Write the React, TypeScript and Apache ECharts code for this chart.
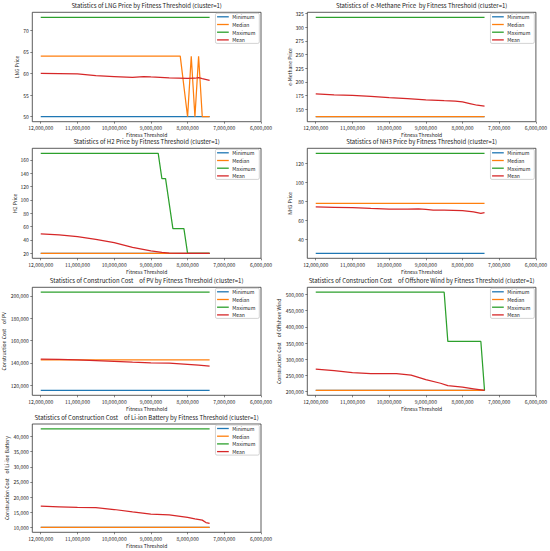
import React, { useEffect, useRef } from "react";
import * as echarts from "echarts";

// ---------- data ----------
const seriesNames = ["Minimum", "Median", "Maximum", "Mean"];
const seriesColors = ["#1f77b4", "#ff7f0e", "#2ca02c", "#d62728"];

const xTicks = [12000000, 11000000, 10000000, 9000000, 8000000, 7000000, 6000000];

// LNG Price
const lngMinimum = [[12000000, 50], [7400000, 50]];
const lngMedian = [[12000000, 64], [8200000, 64], [8000000, 50], [7900000, 64], [7800000, 50], [7700000, 64], [7600000, 50], [7400000, 50]];
const lngMaximum = [[12000000, 73], [7400000, 73]];
const lngMean = [[12000000, 60], [11000000, 59.9], [10500000, 59.5], [10000000, 59.3], [9500000, 59.1], [9200000, 59.3], [9000000, 59.2], [8500000, 59.0], [8000000, 58.85], [7800000, 58.9], [7700000, 59.05], [7600000, 58.8], [7400000, 58.4]];
const lngTicks = [50, 55, 60, 65, 70];

// e-Methane Price
const emMinimum = [[12000000, 136.5], [7400000, 136.5]];
const emMedian = [[12000000, 136.5], [7400000, 136.5]];
const emMaximum = [[12000000, 318.3], [7400000, 318.3]];
const emMean = [[12000000, 178.3], [11500000, 176.5], [11000000, 175.5], [10500000, 173.7], [10000000, 171.5], [9500000, 169.8], [9000000, 167.5], [8500000, 165.8], [8200000, 165.2], [8000000, 163.5], [7800000, 160.5], [7600000, 157.5], [7400000, 156]];
const emTicks = [150, 175, 200, 225, 250, 275, 300, 325];

// H2 Price
const h2Minimum = [[12000000, 20], [7400000, 20]];
const h2Median = [[12000000, 20], [7400000, 20]];
const h2Maximum = [[12000000, 170], [8800000, 170], [8700000, 132], [8600000, 132], [8400000, 57], [8100000, 57], [8000000, 20], [7400000, 20]];
const h2Mean = [[12000000, 49], [11500000, 47.5], [11000000, 45], [10500000, 41], [10000000, 36], [9500000, 29], [9000000, 23.5], [8700000, 21.3], [8500000, 20.3], [8000000, 20], [7400000, 20]];
const h2Ticks = [20, 40, 60, 80, 100, 120, 140, 160];

// NH3 Price
const nh3Minimum = [[12000000, 25.6], [7400000, 25.6]];
const nh3Median = [[12000000, 78], [7400000, 78]];
const nh3Maximum = [[12000000, 130.5], [7400000, 130.5]];
const nh3Mean = [[12000000, 74.2], [11500000, 73.8], [11000000, 73.4], [10500000, 72.6], [10000000, 71.9], [9500000, 72.0], [9200000, 72.2], [9000000, 71.8], [8800000, 71.0], [8500000, 71.0], [8000000, 70.3], [7700000, 69.0], [7500000, 67.5], [7400000, 68.3]];
const nh3Ticks = [40, 60, 80, 100, 120];

// Construction Cost of PV
const pvMinimum = [[12000000, 115300], [7400000, 115300]];
const pvMedian = [[12000000, 142700], [7400000, 142700]];
const pvMaximum = [[12000000, 203200], [7400000, 203200]];
const pvMean = [[12000000, 143200], [11500000, 143000], [11000000, 142600], [10500000, 142000], [10000000, 141300], [9500000, 140500], [9000000, 139900], [8500000, 139700], [8000000, 138600], [7700000, 137900], [7400000, 137000]];
const pvTicks = [120000, 140000, 160000, 180000, 200000];

// Construction Cost of Offshore Wind
const owMinimum = [[12000000, 204000], [7400000, 204000]];
const owMedian = [[12000000, 204000], [7400000, 204000]];
const owMaximum = [[12000000, 507000], [8500000, 507000], [8400000, 355000], [7500000, 355000], [7400000, 204000]];
const owMean = [[12000000, 269500], [11500000, 265000], [11000000, 259000], [10500000, 256000], [10000000, 255500], [9800000, 256000], [9400000, 251000], [9000000, 237000], [8600000, 226000], [8400000, 218500], [8000000, 214000], [7700000, 209000], [7400000, 204000]];
const owTicks = [200000, 250000, 300000, 350000, 400000, 450000, 500000];

// Construction Cost of Li-ion Battery
const liMinimum = [[12000000, 10000], [7400000, 10000]];
const liMedian = [[12000000, 10000], [7400000, 10000]];
const liMaximum = [[12000000, 42500], [7400000, 42500]];
const liMean = [[12000000, 17000], [11500000, 16800], [11000000, 16600], [10500000, 16500], [10000000, 15900], [9500000, 15100], [9000000, 14400], [8500000, 14100], [8000000, 13300], [7800000, 12800], [7600000, 12400], [7500000, 11600], [7400000, 11300]];
const liTicks = [10000, 15000, 20000, 25000, 30000, 35000, 40000];

const titles = [
  "Statistics of LNG Price by Fitness Threshold (cluster=1)",
  "Statistics of  e-Methane Price  by Fitness Threshold (cluster=1)",
  "Statistics of H2 Price by Fitness Threshold (cluster=1)",
  "Statistics of NH3 Price by Fitness Threshold (cluster=1)",
  "Statistics of Construction Cost\u3000of PV by Fitness Threshold (cluster=1)",
  "Statistics of Construction Cost\u3000of Offshore Wind by Fitness Threshold (cluster=1)",
  "Statistics of Construction Cost\u3000of Li-ion Battery by Fitness Threshold (cluster=1)",
];
const yNames = [
  "LNG Price",
  "e-Methane Price",
  "H2 Price",
  "NH3 Price",
  "Construction Cost\u3000of PV",
  "Construction Cost\u3000of Offshore Wind",
  "Construction Cost\u3000of Li-ion Battery",
];
const panelSeries = [
  [lngMinimum, lngMedian, lngMaximum, lngMean],
  [emMinimum, emMedian, emMaximum, emMean],
  [h2Minimum, h2Median, h2Maximum, h2Mean],
  [nh3Minimum, nh3Median, nh3Maximum, nh3Mean],
  [pvMinimum, pvMedian, pvMaximum, pvMean],
  [owMinimum, owMedian, owMaximum, owMean],
  [liMinimum, liMedian, liMaximum, liMean],
];
const panelTicks = [lngTicks, emTicks, h2Ticks, nh3Ticks, pvTicks, owTicks, liTicks];

// ---------- layout ----------
const W = 550;
const H = 551;
const colLeft = [32.3, 307.3];
const plotWidth = 228.7;
const rowTop = [12.3, 148.3, 287.3, 424];
const rowHeight = [109.4, 110, 108, 108.3];
const yNameGaps = [9, 14, 9.5, 14, 26, 26, 23];
const FONT = "'Noto Sans CJK JP', 'DejaVu Sans', sans-serif";
const TEXT = "#1a1a1a";

const fmt = (v: number) => Math.round(v).toLocaleString("en-US");

function buildOption() {
  const grid: any[] = [];
  const xAxis: any[] = [];
  const yAxis: any[] = [];
  const series: any[] = [];
  const title: any[] = [];
  const legend: any[] = [];

  panelSeries.forEach((sets, i) => {
    const col = i % 2;
    const row = Math.floor(i / 2);
    const left = colLeft[col];
    const top = rowTop[row];
    const h = rowHeight[row];

    grid.push({
      left,
      top,
      width: plotWidth,
      height: h,
      show: true,
      borderColor: "#333",
      borderWidth: 0.8,
      backgroundColor: "transparent",
      containLabel: false,
    });

    xAxis.push({
      type: "value",
      gridIndex: i,
      inverse: true,
      min: 6000000,
      max: 12230000,
      name: "Fitness Threshold",
      nameLocation: "middle",
      nameGap: 10.5,
      nameTextStyle: { fontSize: 5, color: TEXT, fontFamily: FONT },
      axisLine: { show: false },
      axisTick: { show: true, length: 2, customValues: xTicks, lineStyle: { color: "#333", width: 0.6 } },
      axisLabel: {
        customValues: xTicks,
        formatter: (v: number) => fmt(v),
        fontSize: 5,
        margin: 3.5,
        color: TEXT,
        fontFamily: FONT,
      },
      splitLine: { show: false },
    });

    yAxis.push({
      type: "value",
      gridIndex: i,
      min: (v: any) => v.min - 0.05 * (v.max - v.min),
      max: (v: any) => v.max + 0.05 * (v.max - v.min),
      name: yNames[i],
      nameLocation: "middle",
      nameGap: yNameGaps[i],
      nameTextStyle: { fontSize: 5, color: TEXT, fontFamily: FONT },
      axisLine: { show: false },
      axisTick: { show: true, length: 2, customValues: panelTicks[i], lineStyle: { color: "#333", width: 0.6 } },
      axisLabel: {
        customValues: panelTicks[i],
        formatter: (v: number) => fmt(v),
        fontSize: 5,
        margin: 3.5,
        color: TEXT,
        fontFamily: FONT,
      },
      splitLine: { show: false },
    });

    sets.forEach((data, k) => {
      series.push({
        type: "line",
        name: seriesNames[k],
        xAxisIndex: i,
        yAxisIndex: i,
        data,
        showSymbol: false,
        symbol: "none",
        color: seriesColors[k],
        lineStyle: { width: 1.25, color: seriesColors[k] },
        z: 2 + k,
      });
    });

    title.push({
      text: titles[i],
      left: left + plotWidth / 2,
      textAlign: "center",
      top: top - 10,
      padding: 0,
      textStyle: { fontSize: 6, fontWeight: "normal", color: TEXT, fontFamily: FONT },
    });

    legend.push({
      data: seriesNames,
      orient: "vertical",
      right: W - (left + plotWidth) + 1.7,
      top: top + 1,
      icon: "rect",
      itemWidth: 11.7,
      itemHeight: 1.3,
      itemGap: 2.7,
      padding: [1, 4, 1, 1.6],
      borderColor: "#c8c8c8",
      borderWidth: 0.8,
      borderRadius: 1.5,
      backgroundColor: "rgba(255,255,255,0.85)",
      selectedMode: false,
      textStyle: { fontSize: 5, lineHeight: 5, color: TEXT, fontFamily: FONT, padding: [0, 0, 0, -1.5] },
    });
  });

  return {
    animation: false,
    backgroundColor: "#ffffff",
    title,
    legend,
    grid,
    xAxis,
    yAxis,
    series,
  };
}

export default function App() {
  const ref = useRef<HTMLDivElement>(null);
  useEffect(() => {
    document.body.style.margin = "0";
    if (!ref.current) return;
    const chart = echarts.init(ref.current, undefined, { renderer: "svg", width: W, height: H });
    chart.setOption(buildOption() as any);
    return () => chart.dispose();
  }, []);
  return <div ref={ref} style={{ width: W, height: H, position: "absolute", left: 0, top: 0 }} />;
}
